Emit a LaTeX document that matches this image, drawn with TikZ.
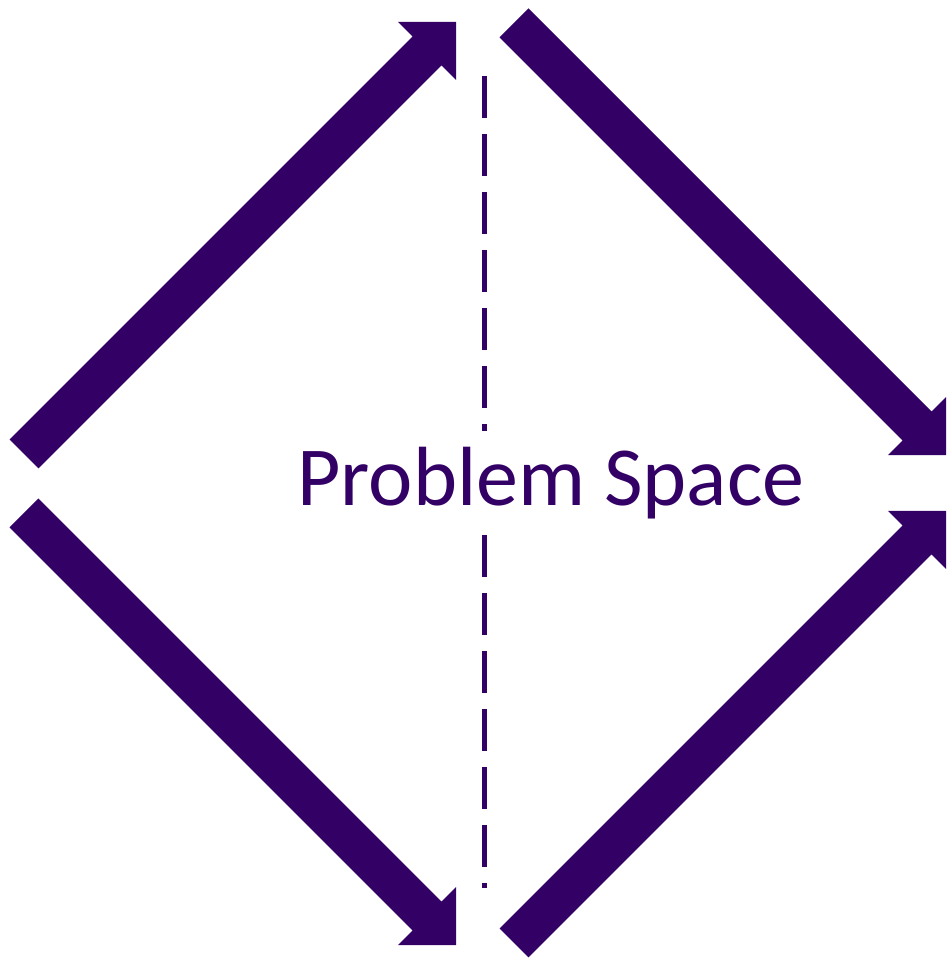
\documentclass[tikz,border=0pt]{standalone}
\usepackage{fontspec}
\setmainfont{Carlito}
\definecolor{arrowcol}{RGB}{51,0,102}
\tikzset{
  blockarrow/.pic={
    \fill[arrowcol] (0,-20.5) -- (570,-20.5) -- (570,-41) -- (611,0) -- (570,41) -- (570,20.5) -- (0,20.5) -- cycle;
  },
  dashline/.style={draw=arrowcol, line width=5pt, dash pattern=on 42pt off 16pt},
  labeltext/.style={font=\fontsize{84}{100}\selectfont, text=arrowcol, anchor=base, inner sep=0pt}
}
\begin{document}
\begin{tikzpicture}[x=1pt,y=1pt]
\useasboundingbox (0,0) rectangle (949,959);
% arrows
\pic[rotate=45] (a1) at (24,505) {blockarrow};
\pic[rotate=-45] (a2) at (514,936) {blockarrow};
\pic[rotate=-45] (a3) at (24,446) {blockarrow};
\pic[rotate=45] (a4) at (514,16) {blockarrow};
% label
\node[labeltext] (label) at (551,453) {Problem Space};
% dashed divider
\coordinate (d1s) at (484.5,883);
\coordinate (d1e) at (484.5,528);
\coordinate (d2s) at (484.5,424);
\coordinate (d2e) at (484.5,71);
\draw[dashline] (d1s) -- (d1e);
\draw[dashline] (d2s) -- (d2e);
\end{tikzpicture}
\end{document}
